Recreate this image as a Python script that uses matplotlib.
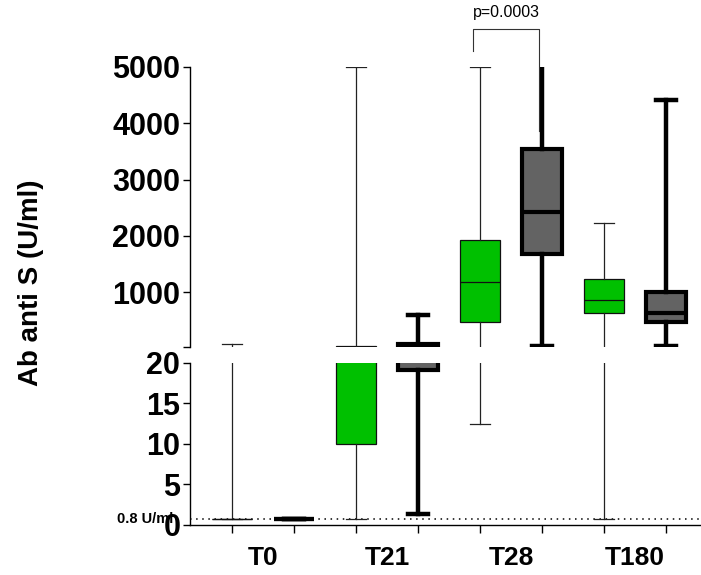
import numpy as np
import matplotlib
matplotlib.use("Agg")
import matplotlib.pyplot as plt

plt.rcParams['font.family'] = ['Liberation Sans', 'DejaVu Sans']

groups = ["T0", "T21", "T28", "T180"]
# green series (five-number summaries)
green_whislo = [0.8, 0.8, 12.4, 0.8]
green_q1 = [0.8, 10, 467, 632]
green_med = [0.8, 30, 1178, 852]
green_q3 = [0.8, 50, 1924, 1226]
green_whishi = [81, 5000, 5000, 2227]
# grey series
grey_whislo = [0.8, 1.4, 45, 35]
grey_q1 = [0.8, 19.1, 1675, 472]
grey_med = [0.8, 40, 2422, 632]
grey_q3 = [0.8, 70, 3542, 995]
grey_whishi = [0.8, 596, 5000, 4418]

threshold = 0.8
threshold_label = "0.8 U/ml"
p_text = "p=0.0003"
top_ticks = [1000, 2000, 3000, 4000, 5000]
bottom_ticks = [0, 5, 10, 15, 20]
BREAK = 20

W, H = 701, 575
fig = plt.figure(figsize=(W / 100, H / 100), dpi=100)

x0 = 190 / W
ax_top = fig.add_axes([x0, 1 - 347.2 / H, 1 - x0, (347.2 - 67) / H])
ax_bot = fig.add_axes([x0, 1 - 525 / H, 1 - x0, (525 - 362.7) / H])

GREEN = "#00C000"
GREY = "#636363"
pos_green = np.arange(len(groups)) * 2
pos_grey = pos_green + 1

def stats(lo, q1, med, q3, hi, panel):
    # values outside a panel are pushed far off it so they are clipped cleanly
    def f(v):
        if panel == 'top':
            return v if v >= BREAK else -3000
        return v if v <= BREAK else 300
    return [dict(whislo=f(a), q1=f(b), med=f(c), q3=f(d), whishi=f(e), fliers=[])
            for a, b, c, d, e in zip(lo, q1, med, q3, hi)]

for ax, panel in ((ax_top, 'top'), (ax_bot, 'bot')):
    gs = stats(green_whislo, green_q1, green_med, green_q3, green_whishi, panel)
    ks = stats(grey_whislo, grey_q1, grey_med, grey_q3, grey_whishi, panel)
    ax.bxp(gs, positions=pos_green, widths=0.66, patch_artist=True,
           showfliers=False, capwidths=0.33,
           boxprops=dict(facecolor=GREEN, edgecolor="#111111", linewidth=0.9),
           medianprops=dict(color="#111111", linewidth=0.9),
           whiskerprops=dict(color="#222222", linewidth=0.9),
           capprops=dict(color="#222222", linewidth=0.9), manage_ticks=False)
    kb = ax.bxp(ks, positions=pos_grey, widths=0.66, patch_artist=True,
                showfliers=False, capwidths=0.33,
                boxprops=dict(facecolor=GREY, edgecolor="black", linewidth=3.0),
                medianprops=dict(color="black", linewidth=3.0),
                whiskerprops=dict(color="black", linewidth=3.2),
                capprops=dict(color="black", linewidth=3.2), manage_ticks=False)
    kb['caps'][2 * 2 + 1].set_visible(False)  # T28 grey: no upper cap shown
    ax.set_xlim(-0.677, 7.565)
    ax.spines['right'].set_visible(False)
    ax.spines['top'].set_visible(False)
    ax.spines['left'].set_linewidth(1.0)
    ax.spines['bottom'].set_linewidth(1.0)
    ax.tick_params(axis='y', length=5, width=1.0, pad=2, labelsize=22)

ax_top.set_ylim(BREAK, 5000)
ax_top.spines['bottom'].set_visible(False)
ax_top.set_yticks([BREAK] + top_ticks)
ax_top.set_yticklabels([""] + [str(t) for t in top_ticks], fontweight='bold', fontsize=22)
ax_top.set_xticks([])

ax_bot.set_ylim(0, BREAK)
ax_bot.set_yticks(bottom_ticks)
ax_bot.set_yticklabels([str(t) for t in bottom_ticks], fontweight='bold', fontsize=22)
ax_bot.set_xticks(np.concatenate([pos_green, pos_grey]))
ax_bot.set_xticklabels([])
ax_bot.tick_params(axis='x', length=6, width=1.0)
centers = (pos_green + pos_grey) / 2
ax_bot.set_xticks(centers, minor=True)
ax_bot.set_xticklabels(groups, minor=True, fontweight='bold', fontsize=19)
ax_bot.tick_params(axis='x', which='minor', length=0, pad=15)

ax_bot.axhline(threshold, color="black", linestyle=(0, (1, 3)), linewidth=1.1, zorder=1)
ax_bot.text((117 - 190) / (W - 190), threshold, threshold_label, transform=ax_bot.get_yaxis_transform(),
            ha='left', va='center', fontsize=10.5, fontweight='bold', clip_on=False, zorder=1)

# significance bracket
bx = [3.89, 3.89, 4.95, 4.95]
by = [5284, 5676, 5676, 3862]
ax_top.plot(bx, by, color="#333333", linewidth=0.8, clip_on=False, zorder=5)
ax_top.text(4.42, 5960, p_text, ha='center', va='center', fontsize=11.5, clip_on=False)

fig.text(31 / W, 1 - 283 / H, "Ab anti S (U/ml)", rotation=90, ha='center', va='center',
         fontsize=20, fontweight='bold')

fig.savefig("out.png", dpi=100)
